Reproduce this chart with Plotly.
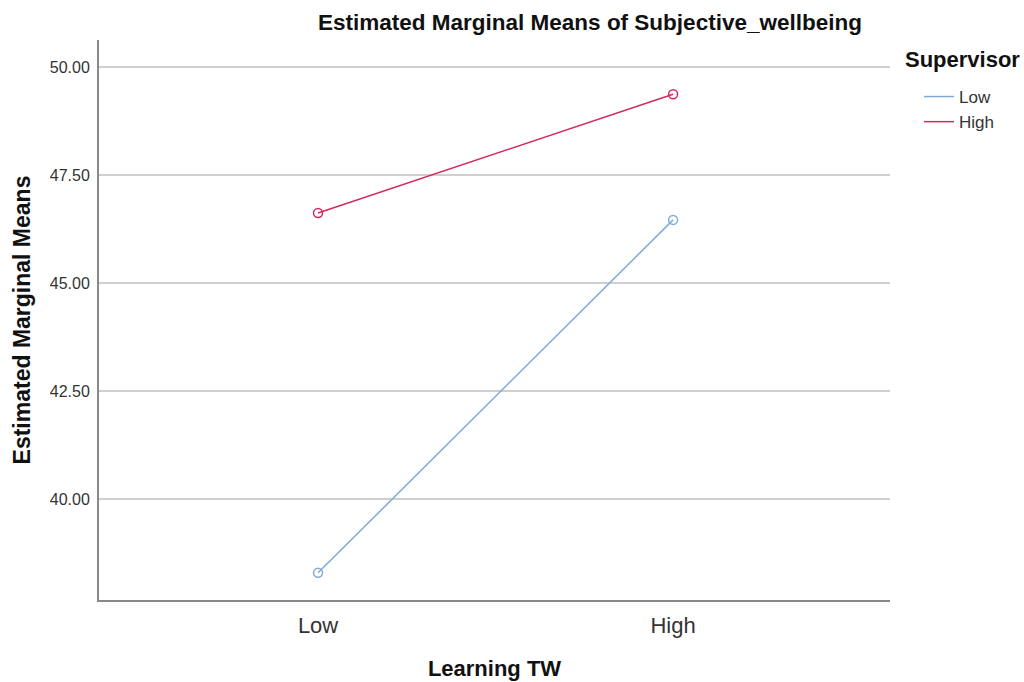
import plotly.graph_objects as go

categories = ["Low", "High"]
series_names = ["Low", "High"]
low_supervisor = [38.29, 46.46]
high_supervisor = [46.62, 49.37]
y_ticks = [40.0, 42.5, 45.0, 47.5, 50.0]
y_tick_labels = ["40.00", "42.50", "45.00", "47.50", "50.00"]

colors = ["#7FA9DC", "#D42A5B"]

W, H = 1024, 682
ML, MR, MT, MB = 99, 134, 40, 82
PW, PH = W - ML - MR, H - MT - MB

def px_x(page_x):
    return (page_x - ML) / PW

def px_y(page_y):
    return 1 - (page_y - MT) / PH

fig = go.Figure()
for name, vals, col in zip(series_names, [low_supervisor, high_supervisor], colors):
    fig.add_trace(go.Scatter(
        x=[0, 1], y=vals, mode="lines+markers", name=name, showlegend=False,
        line=dict(color=col, width=1.5),
        marker=dict(symbol="circle-open", size=9, color=col, line=dict(width=1.5)),
    ))
    fig.add_trace(go.Scatter(
        x=[None], y=[None], mode="lines", name=name, showlegend=True,
        line=dict(color=col, width=1.5),
    ))

fig.update_layout(
    width=W, height=H,
    paper_bgcolor="white", plot_bgcolor="white",
    margin=dict(l=ML, r=MR, t=MT, b=MB, autoexpand=False),
    font=dict(family="Liberation Sans, Arial, sans-serif", color="#222"),
    title=dict(text="<b>Estimated Marginal Means of Subjective_wellbeing</b>",
               x=590 / W, xanchor="center", y=1 - 22 / H, yanchor="middle",
               font=dict(size=22.5, color="#111")),
    xaxis=dict(range=[-0.617, 1.611], tickvals=[0, 1], ticktext=categories,
               showgrid=False, zeroline=False, showline=True, linecolor="#888",
               linewidth=2, ticks="outside", ticklen=5, tickcolor="rgba(0,0,0,0)",
               tickfont=dict(size=22, color="#333"), automargin=False,
               title=dict(text="<b>Learning TW</b>", font=dict(size=22, color="#111"), standoff=23)),
    yaxis=dict(range=[37.66, 50.625], tickvals=y_ticks, ticktext=y_tick_labels,
               showgrid=True, gridcolor="#CFCFCF", gridwidth=2, zeroline=False,
               showline=True, linecolor="#888", linewidth=2,
               ticks="outside", ticklen=4, tickcolor="rgba(0,0,0,0)",
               tickfont=dict(size=16, color="#333"), automargin=False,
               title=dict(text="<b>Estimated Marginal Means</b>", font=dict(size=23, color="#111"), standoff=13)),
    legend=dict(x=px_x(919), y=px_y(79), xanchor="left", yanchor="top",
                font=dict(size=17, color="#333"), itemwidth=30, tracegroupgap=0,
                bgcolor="rgba(0,0,0,0)"),
    annotations=[dict(text="<b>Supervisor</b>", xref="paper", yref="paper",
                      x=px_x(903), y=px_y(60), xanchor="left", yanchor="middle",
                      showarrow=False, font=dict(size=22, color="#111"))],
)

fig.write_html("out.html", config={"displayModeBar": False},
               post_script="document.body.style.margin='0';")
